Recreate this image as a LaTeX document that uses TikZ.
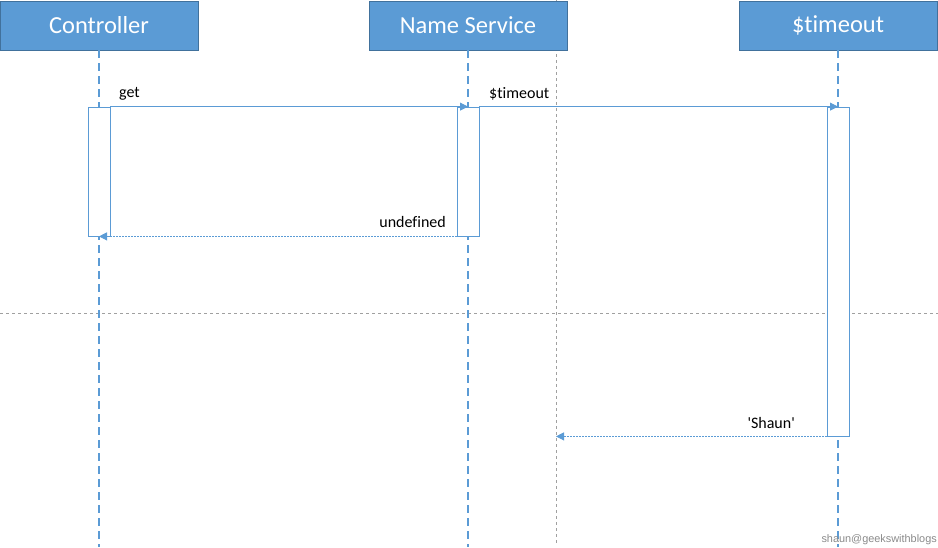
\documentclass[tikz,border=0pt]{standalone}
\usepackage{fontspec}
\setmainfont[RawFeature={-liga;-calt;-clig;-dlig}]{Carlito}
\newfontfamily\wmfont{Liberation Sans}
\usetikzlibrary{arrows.meta}
\definecolor{hdrfill}{HTML}{5B9BD5}
\definecolor{hdrdraw}{HTML}{41719C}
\definecolor{lifeblue}{HTML}{5B9BD5}
\definecolor{sepgray}{HTML}{A0A0A0}
\definecolor{wmgray}{HTML}{8A8A8A}
\tikzset{
  header/.style={rectangle, fill=hdrfill, draw=hdrdraw, line width=0.8pt, text=white,
    minimum width=198pt, minimum height=49pt, inner sep=0pt, font=\fontsize{24.5}{28}\selectfont},
  lifeline/.style={draw=lifeblue, line width=2pt, dash pattern=on 8pt off 5pt},
  actbox/.style={rectangle, draw=lifeblue, fill=white, line width=0.8pt, minimum width=22pt, inner sep=0pt},
  msg/.style={draw=lifeblue, line width=0.8pt, -{Triangle[length=8pt,width=8pt]}},
  retmsg/.style={draw=lifeblue, line width=0.8pt, dash pattern=on 2pt off 1pt, -{Triangle[length=8pt,width=8pt]}},
  sep/.style={draw=sepgray, line width=0.8pt, dash pattern=on 3pt off 3pt},
  lbl/.style={font=\fontsize{16}{18}\selectfont, inner sep=0pt, text=black}
}
\begin{document}
\begin{tikzpicture}[x=1pt,y=-1pt]
\useasboundingbox (0,0) rectangle (938,547);
% separators
\coordinate (vtop) at (556,0);
\coordinate (vbot) at (556,545);
\coordinate (hl) at (0,313);
\coordinate (hr) at (938,313);
\draw[sep] (vtop) -- (vbot);
\draw[sep] (hl) -- (hr);
% headers
\node[header] (ctrl) at (99,25.5) {Controller};
\node[header] (ns) at (468,25.5) {Name Service};
\node[header] (to) at (838,25.5) {\$timeout};
% lifeline ends
\coordinate (ctrlend) at (99,547);
\coordinate (nsend) at (468,547);
\coordinate (toend) at (838,547);
\draw[lifeline] (ctrl.south) -- (ctrlend);
\draw[lifeline] (ns.south) -- (nsend);
\draw[lifeline] (to.south) -- (toend);
% activation boxes
\node[actbox, minimum height=129pt] (ca) at (99,171.5) {};
\node[actbox, minimum height=129pt] (na) at (468,171.5) {};
\node[actbox, minimum height=329pt] (ta) at (838,271.5) {};
% messages
\draw[msg] (ca.north east) -- (ns.south |- ca.north);
\draw[msg] (na.north east) -- (to.south |- na.north);
\draw[retmsg] (na.south west) -- (ctrl.south |- na.south);
\draw[retmsg] (ta.south west) -- (vtop |- ta.south);
% labels
\node[lbl, anchor=west] (lget) at (119,93.5) {get};
\node[lbl, anchor=west] (lto) at (489,93.5) {\$timeout};
\node[lbl, anchor=east] (lund) at (446,221.5) {undefined};
\node[lbl, anchor=east] (lsh) at (795,422.5) {\textquotesingle Shaun\textquotesingle};
\node[anchor=east, inner sep=0pt, text=wmgray, font=\wmfont\fontsize{10.9}{12}\selectfont] (wm) at (937,540) {shaun@geekswithblogs};
\end{tikzpicture}
\end{document}
